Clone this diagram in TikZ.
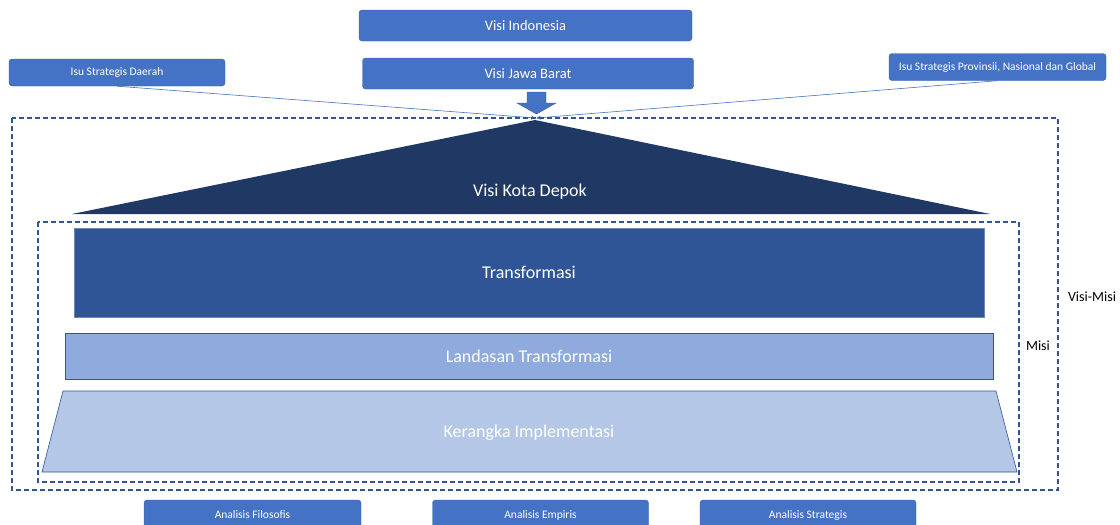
\documentclass[tikz,border=0pt]{standalone}
\usepackage{fontspec}
\setmainfont{Carlito}
\usepackage{xcolor}
\usepackage{tikz}
\usetikzlibrary{arrows.meta}

\definecolor{boxblue}{HTML}{4472C4}
\definecolor{navy}{HTML}{203864}
\definecolor{midblue}{HTML}{2F5597}
\definecolor{softblue}{HTML}{8FAADC}
\definecolor{paleblue}{HTML}{B4C7E7}

\newcommand{\fs}[1]{\fontsize{#1}{#1}\selectfont}

\begin{document}
\begin{tikzpicture}[x=1pt,y=-1pt,
		bluebox/.style={draw=boxblue!85!black,line width=0.4pt,fill=boxblue,rounded corners=3pt,text=white,inner sep=0pt},
		bigbox/.style={bluebox,font=\fs{14.5}},
		smallbox/.style={bluebox,font=\fs{11.5}},
		frame/.style={draw=midblue,line width=1.4pt,dash pattern=on 5pt off 3pt},
		link/.style={draw=boxblue,line width=0.6pt,-{Stealth[length=5pt,width=4pt]}}]
		\useasboundingbox (0,0) rectangle (1120,525);
		\clip (0,0) rectangle (1120,525);
		% kotak atas
		\node[bigbox,minimum width=333pt,minimum height=31pt] (indonesia) at (525.5,25.5) {Visi Indonesia};
		\node[bigbox,minimum width=331pt,minimum height=31pt] (jabar) at (528,73.5) {Visi Jawa Barat};
		\node[smallbox,minimum width=216pt,minimum height=27pt] (daerah) at (117,72.5) {Isu Strategis Daerah};
		\node[smallbox,minimum width=217pt,minimum height=27pt] (provinsi) at (997.5,67) {Isu Strategis Provinsii, Nasional dan Global};
		% panah ke puncak
		\filldraw[fill=boxblue,draw=midblue,line width=0.4pt] (527,92) -- (546,92) -- (546,103) -- (556,103) -- (536.5,114) -- (517,103) -- (527,103) -- cycle;
		\coordinate (apex) at (536,118);
		\draw[link] (daerah.south) -- (apex);
		\draw[link] (provinsi.south) -- (apex);
		% bingkai visi-misi
		\draw[frame] (12,118) rectangle (1058,490);
		\node[font=\fs{14}] (visimisi) at (1092,297) {Visi-Misi};
		% atap
		\fill[navy] (535,120) -- (990,214) -- (72,214) -- cycle;
		\node[font=\fs{18},text=white] (visi) at (530,192) {Visi Kota Depok};
		% bingkai misi
		\draw[frame] (38,222) rectangle (1019,482);
		\node[font=\fs{14}] (misi) at (1038,346) {Misi};
		\node[fill=midblue,draw=midblue!70!white,line width=0.4pt,minimum width=910pt,minimum height=89pt,font=\fs{18},text=white] (transformasi) at (529,272.5) {Transformasi};
		\node[fill=softblue,draw=midblue,line width=0.6pt,minimum width=928pt,minimum height=46pt,font=\fs{18},text=white] (landasan) at (529,356) {Landasan Transformasi};
		\filldraw[fill=paleblue,draw=midblue,line width=0.6pt] (63,391) -- (996,391) -- (1017,472) -- (42,472) -- cycle;
		\node[font=\fs{18},text=white] (kerangka) at (529,433) {Kerangka Implementasi};
		% kotak bawah
		\node[smallbox,minimum width=217pt,minimum height=30pt] (filosofis) at (252.5,515) {Analisis Filosofis};
		\node[smallbox,minimum width=216pt,minimum height=30pt] (empiris) at (540.5,515) {Analisis Empiris};
		\node[smallbox,minimum width=216pt,minimum height=30pt] (strategis) at (808,515) {Analisis Strategis};
	\end{tikzpicture}
\end{document}
